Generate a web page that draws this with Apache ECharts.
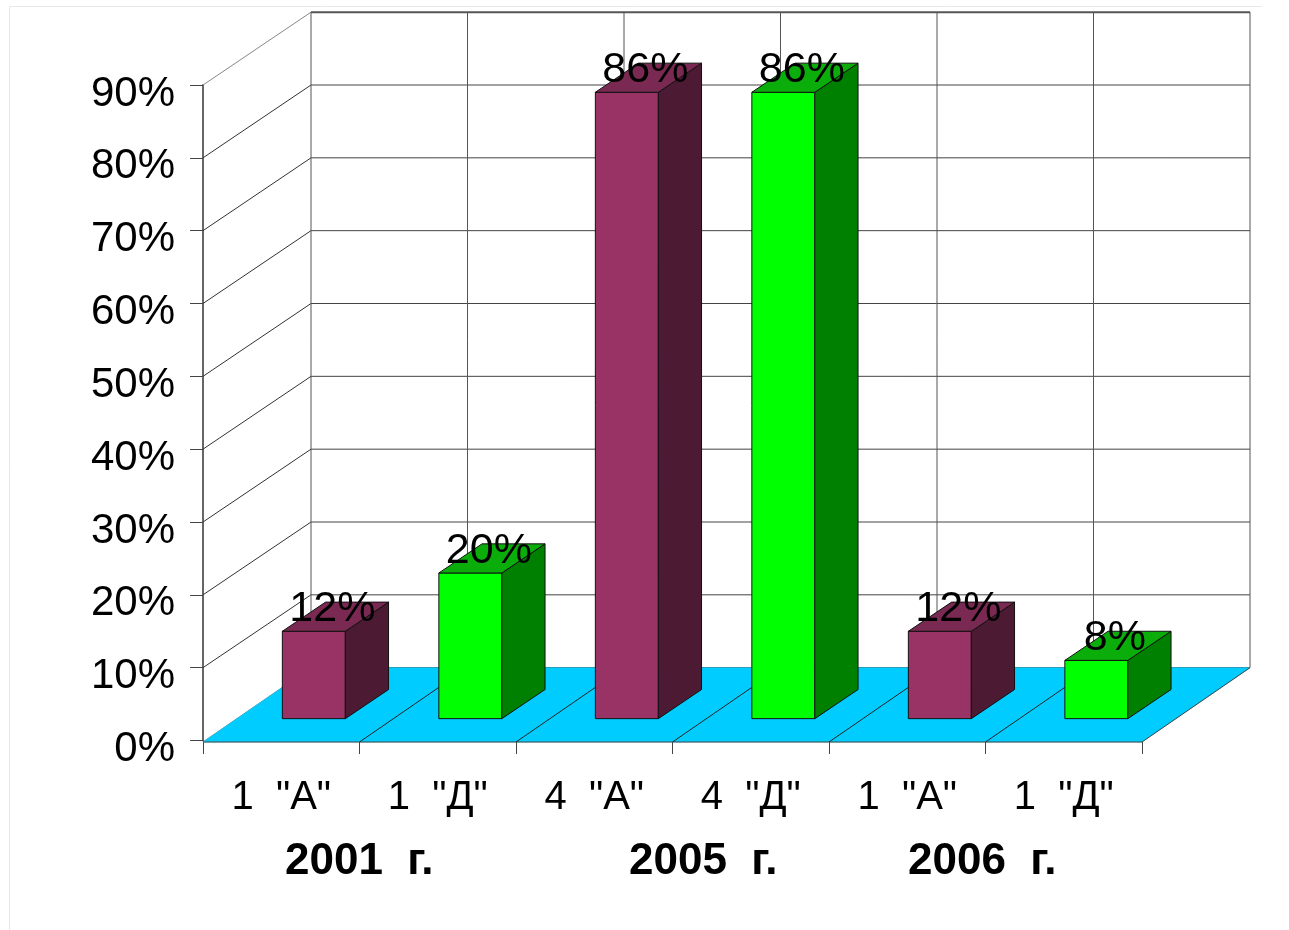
<!DOCTYPE html>
<html>
<head>
<meta charset="utf-8">
<style>html,body{margin:0;padding:0;background:#fff}#c{width:1289px;height:930px}</style>
<script src="https://cdn.jsdelivr.net/npm/echarts@6/dist/echarts.min.js"></script>
</head>
<body>
<div id="c"></div>
<script>
const categories = ['1  "А"', '1  "Д"', '4  "А"', '4  "Д"', '1  "А"', '1  "Д"'];
const values = [12, 20, 86, 86, 12, 8];
const valueLabels = ['12%', '20%', '86%', '86%', '12%', '8%'];
const yTicks = [0, 10, 20, 30, 40, 50, 60, 70, 80, 90];
const groupLabels = ['2001  г.', '2005  г.', '2006  г.'];

const maroon = { front: '#993366', side: '#4c1a33', top: '#7a2952' };
const green = { front: '#00ff00', side: '#008000', top: '#0bad0b' };
const FONT = '"Liberation Sans", Arial, sans-serif';
const LINE = '#555555';
const FLOOR_DROP = 1.5;

function depthVec(api) {
  const w = api.size([1, 0])[0];
  const h = api.size([0, 10])[1];
  return [w * 108 / 156.5, -h];
}
function line(a, b, color, width) {
  return { type: 'line', shape: { x1: a[0], y1: a[1], x2: b[0], y2: b[1] },
           style: { stroke: color, lineWidth: width || 1 }, silent: true };
}
function poly(points, fill, stroke) {
  return { type: 'polygon', shape: { points },
           style: { fill, stroke: stroke || '#111', lineWidth: 1 }, silent: true };
}

const wallItem = (params, api) => {
  const v = api.value(0), d = depthVec(api), w = api.size([1, 0])[0];
  const p = api.coord([0, v]);
  const left = [p[0] - w / 2, p[1]];
  const back = [left[0] + d[0], left[1] + d[1]];
  const right = [back[0] + w * categories.length, back[1]];
  const isTop = v === yTicks[yTicks.length - 1];
  if (v === 0) left[1] += FLOOR_DROP;
  return { type: 'group', children: [
    line(left, back, v === 0 ? '#777' : (isTop ? '#888' : '#333'), 1),
    line(back, right, isTop ? '#555' : '#444', isTop ? 2 : 1)
  ]};
};
const wallVerticalItem = (params, api) => {
  const i = api.value(0), d = depthVec(api), w = api.size([1, 0])[0];
  const b = api.coord([i, 0]), t = api.coord([i, yTicks[yTicks.length - 1]]);
  const x = b[0] - w / 2 + d[0];
  return line([x, b[1] + d[1]], [x, t[1] + d[1]], LINE, 1);
};
const floorItem = (params, api) => {
  const i = api.value(0), d = depthVec(api), w = api.size([1, 0])[0];
  const b = api.coord([i, 0]);
  const l = b[0] - w / 2, y = b[1] + FLOOR_DROP;
  return { type: 'polygon', shape: { points: [[l, y], [l + w, y], [l + w + d[0], b[1] + d[1]], [l + d[0], b[1] + d[1]]] },
    style: { fill: '#00ccff', stroke: '#00ccff', lineWidth: 0.5 }, silent: true };
};
const floorLineItem = (params, api) => {
  const i = api.value(0), d = depthVec(api), w = api.size([1, 0])[0];
  const b = api.coord([i, 0]);
  const l = b[0] - w / 2, y = b[1] + FLOOR_DROP;
  const children = [line([l, y], [l + w, y], '#444', 1)];
  if (i > 0) children.push(line([l, y], [l + d[0], b[1] + d[1]], '#222', 1));
  if (i === categories.length - 1) children.push(line([l + w, y], [l + w + d[0], b[1] + d[1]], '#444', 1));
  return { type: 'group', children };
};
const barItem = (params, api) => {
  const i = api.value(0), val = api.value(1), d = depthVec(api), w = api.size([1, 0])[0];
  const c = i % 2 === 0 ? maroon : green;
  const b0 = api.coord([i, 0]), t0 = api.coord([i, val]);
  const start = 0.3, depth = 0.4, barW = w * 0.4025;
  const x0 = b0[0] - w * 0.2 + d[0] * start;
  const yb = b0[1] + d[1] * start;
  const yt = t0[1] + d[1] * start;
  const x1 = x0 + barW;
  const dx = d[0] * depth, dy = d[1] * depth;
  return { type: 'group', children: [
    poly([[x0, yb], [x1, yb], [x1, yt], [x0, yt]], c.front),
    poly([[x1, yb], [x1 + dx, yb + dy], [x1 + dx, yt + dy], [x1, yt]], c.side),
    poly([[x0, yt], [x1, yt], [x1 + dx, yt + dy], [x0 + dx, yt + dy]], c.top),
    { type: 'text', z2: 10, silent: true,
      style: { x: (x0 + x1) / 2 + 18.5, y: yt - 22, text: valueLabels[i], fill: '#000',
               font: '43px ' + FONT, align: 'center', verticalAlign: 'middle' } }
  ]};
};

const catIdx = categories.map((_, i) => [i]);

const chart = echarts.init(document.getElementById('c'), null, { renderer: 'canvas' });
chart.setOption({
  animation: false,
  backgroundColor: '#ffffff',
  grid: { left: 203, top: 85, width: 939, height: 655.5, containLabel: false },
  xAxis: {
    type: 'category', data: categories, boundaryGap: true,
    axisLine: { show: false },
    axisTick: { show: true, length: 13.5, lineStyle: { color: '#444', width: 1 } },
    axisLabel: { interval: 0, color: '#000', fontSize: 40, fontFamily: FONT, margin: 37.5 },
    splitLine: { show: false }
  },
  yAxis: {
    type: 'value', min: 0, max: 90, interval: 10,
    axisLine: { show: true, lineStyle: { color: '#666', width: 2 } },
    axisTick: { show: true, length: 13, lineStyle: { color: '#444', width: 1 } },
    axisLabel: { color: '#000', fontSize: 42, fontFamily: FONT, margin: 28, formatter: '{value}%', verticalAlign: 'top', lineHeight: 18 },
    splitLine: { show: false }
  },
  graphic: [
    { type: 'polyline', silent: true, z: -1, shape: { points: [[9.5, 930], [9.5, 6.5], [1262, 6.5]] }, style: { stroke: '#e8e8e8', fill: null, lineWidth: 1 } },
    { type: 'text', left: 285, top: 840, silent: true, style: { text: groupLabels[0], fill: '#000', font: 'bold 44px ' + FONT } },
    { type: 'text', left: 629, top: 840, silent: true, style: { text: groupLabels[1], fill: '#000', font: 'bold 44px ' + FONT } },
    { type: 'text', left: 908, top: 840, silent: true, style: { text: groupLabels[2], fill: '#000', font: 'bold 44px ' + FONT } }
  ],
  series: [
    { type: 'custom', coordinateSystem: 'cartesian2d', z: 1, data: yTicks.map(v => [v]), encode: { y: 0 }, renderItem: wallItem },
    { type: 'custom', coordinateSystem: 'cartesian2d', z: 1, data: categories.concat(['']).map((_, i) => [i]), encode: { x: 0 }, renderItem: wallVerticalItem },
    { type: 'custom', coordinateSystem: 'cartesian2d', z: 2, data: catIdx, encode: { x: 0 }, renderItem: floorItem },
    { type: 'custom', coordinateSystem: 'cartesian2d', z: 3, data: catIdx, encode: { x: 0 }, renderItem: floorLineItem },
    { type: 'custom', coordinateSystem: 'cartesian2d', z: 4, data: values.map((v, i) => [i, v]), encode: { x: 0, y: 1 }, renderItem: barItem }
  ]
});
</script>
</body>
</html>
